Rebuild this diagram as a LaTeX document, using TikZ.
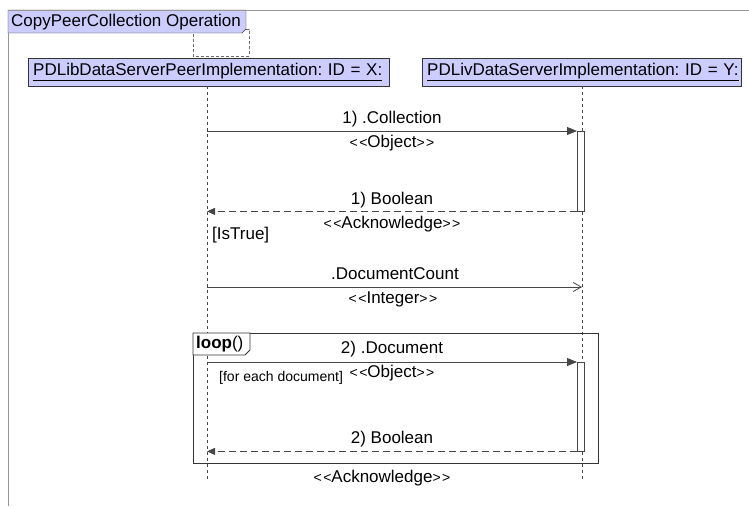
\documentclass[tikz,border=0pt]{standalone}
\usepackage{fontspec}
\setmainfont{Liberation Sans}
\usetikzlibrary{arrows.meta}
\definecolor{lav}{RGB}{204,204,255}
\definecolor{framegray}{RGB}{150,150,150}
\definecolor{msggray}{RGB}{70,70,70}
% stereotype brackets, kerned so the font mapping keeps them as two signs
\newcommand\stereo[1]{{\fontsize{14}{14}\selectfont<\kern1.5pt<}#1{\fontsize{14}{14}\selectfont>\kern1.5pt>}}
\frenchspacing
\begin{document}
\begin{tikzpicture}[x=1pt,y=-1pt,
  every node/.style={font=\fontsize{17}{17}\selectfont, inner sep=0pt},
  head/.style={draw=black!80, fill=lav, anchor=north west, minimum height=28pt,
    inner xsep=5pt, align=left},
  act/.style={draw=msggray, fill=white, anchor=north west, minimum width=7pt},
  lifeline/.style={draw=msggray, line width=0.7pt, dash pattern=on 3pt off 3pt},
  msg/.style={draw=msggray, line width=0.8pt},
  ret/.style={draw=msggray, line width=0.8pt, dash pattern=on 7pt off 4pt},
  call/.style={-{Triangle[length=10pt,width=8pt]}},
  reply/.style={-{Triangle[length=8pt,width=7pt]}},
  async/.style={-{Straight Barb[length=8pt,width=9pt]}},
  lbl/.style={anchor=center},
  tab/.style={draw=black!80, fill=lav}]
\useasboundingbox (0,0) rectangle (749,506);

% outer frame
\draw[framegray, line width=1pt] (749,10) -- (8,10) -- (8,506);
% dashed box behind the title tab
\draw[framegray!70!black, line width=0.8pt, dash pattern=on 3pt off 2pt] (193,29) rectangle (249,56);
% title tab
\filldraw[tab] (8,10) -- (246,10) -- (246,29) -- (242,33) -- (8,33) -- cycle;
\draw[framegray, line width=1pt] (8,10) -- (246,10);
\node[anchor=base west] (title) at (11,27) {CopyPeerCollection Operation};

% lifeline heads
\node[head, text width=351pt] (lib) at (28,58) {\underline{PDLibDataServerPeerImplementation: ID = X:}};
\node[head, text width=309pt] (liv) at (422,58) {\underline{PDLivDataServerImplementation: ID = Y:}};

% lifelines
\coordinate (libend) at (207,480);
\coordinate (livend) at (582,480);
\draw[lifeline] (lib.south -| libend) -- (libend);
\draw[lifeline] (liv.south -| livend) -- (livend);

% activations
\node[act, minimum height=80pt] (act1) at (577,131) {};
\node[act, minimum height=89pt] (act2) at (577,362) {};

% message 1 and its reply
\draw[msg, call] (libend |- act1.north west) -- (act1.north west);
\node[lbl] (m1a) at (392,119) {1) .Collection};
\node[lbl] (m1b) at (392,143) {\stereo{Object}};
\draw[ret, reply] (act1.south west) -- (libend |- act1.south west);
\node[lbl] (r1a) at (392,200) {1) Boolean};
\node[lbl] (r1b) at (392,224) {\stereo{Acknowledge}};
\node[anchor=west] (guard1) at (212,235) {[IsTrue]};

% document count
\coordinate (dc) at (207,287);
\draw[msg, async] (dc) -- (livend |- dc);
\node[lbl] (dca) at (395,274) {.DocumentCount};
\node[lbl] (dcb) at (393,299) {\stereo{Integer}};

% loop fragment
\draw[draw=black!80, line width=0.8pt] (193,333) rectangle (598,463);
\draw[draw=black!80, line width=0.8pt, fill=white] (193,333) -- (250,333) -- (250,350) -- (245,355) -- (193,355) -- cycle;
\node[anchor=west] (looplbl) at (196,344) {\textbf{loop}()};

\draw[msg, call] (libend |- act2.north west) -- (act2.north west);
\node[lbl] (m2a) at (392,349) {2) .Document};
\node[lbl] (m2b) at (392,373) {\stereo{Object}};
\node[anchor=west, font=\fontsize{14}{14}\selectfont] (guard2) at (219,378) {[for each document]};
\draw[ret, reply] (act2.south west) -- (libend |- act2.south west);
\node[lbl] (r2a) at (392,439) {2) Boolean};
\node[lbl] (r2b) at (382,478) {\stereo{Acknowledge}};
\end{tikzpicture}
\end{document}
